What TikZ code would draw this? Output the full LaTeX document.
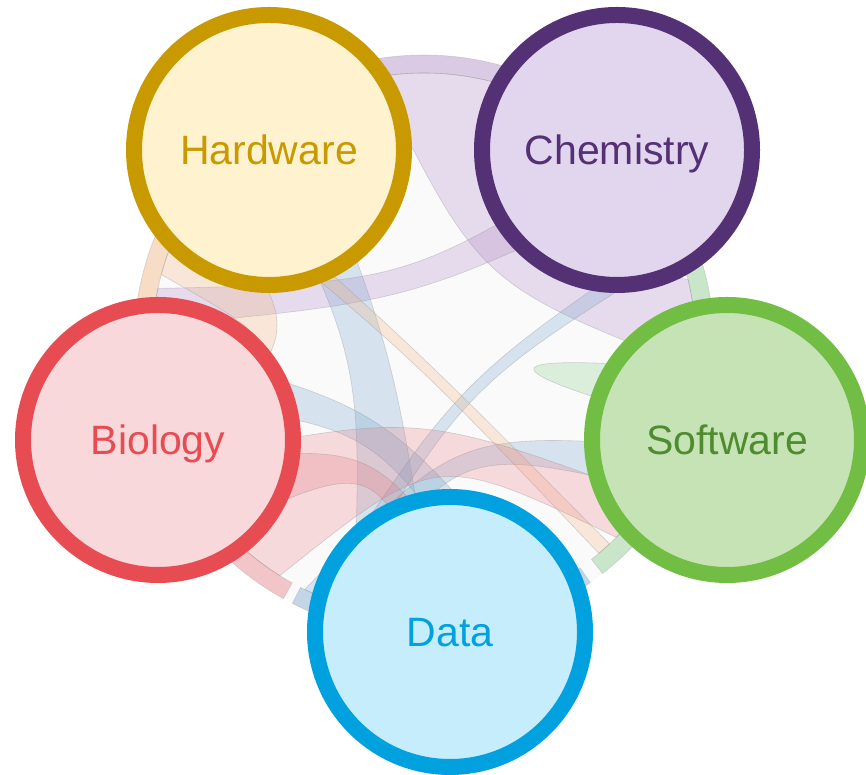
\documentclass[tikz,border=0pt]{standalone}
\usepackage{fontspec}
\setmainfont{Liberation Sans}
\usepackage{tikz}
\usetikzlibrary{calc}

\definecolor{hwline}{RGB}{201,154,0}
\definecolor{hwfill}{RGB}{255,242,207}
\definecolor{chemline}{RGB}{84,49,117}
\definecolor{chemfill}{RGB}{226,214,238}
\definecolor{softline}{RGB}{114,190,68}
\definecolor{softfill}{RGB}{197,227,181}
\definecolor{softtext}{RGB}{78,140,47}
\definecolor{bioline}{RGB}{232,76,83}
\definecolor{biofill}{RGB}{248,216,218}
\definecolor{dataline}{RGB}{0,161,222}
\definecolor{datafill}{RGB}{197,237,252}
% faded chord colours
\definecolor{hwc}{RGB}{244,177,120}
\definecolor{chemc}{RGB}{170,130,195}
\definecolor{softc}{RGB}{130,200,130}
\definecolor{bioc}{RGB}{232,120,128}
\definecolor{datac}{RGB}{110,160,205}

\begin{document}
\begin{tikzpicture}[x=1pt, y=1pt]
    \tikzstyle{topic} = [circle, line width=16pt, inner sep=0pt, minimum size=270pt, text height=29.4pt, text depth=0pt, font=\fontsize{41}{49}\selectfont]
    \tikzstyle{band} = [draw=black!30, line width=0.6pt, fill opacity=0.4, draw opacity=0.5]
    \tikzstyle{ribbon} = [draw=black!45, line width=0.6pt, fill opacity=0.25, draw opacity=0.35]

    \useasboundingbox (0,0) rectangle (866,775);

    % Chord background
    \begin{scope}[shift={(424,430)}]
        \fill[black!2] (0,0) circle (290);
        % outer bands
        \foreach \s/\e/\col in {20/112/chemc, 115/195/hwc, 198/241/bioc, 243/305/datac, 308/377/softc} {
            \filldraw[band, fill=\col] (\s:272) arc[start angle=\s, end angle=\e, radius=272]
                -- (\e:290) arc[start angle=\e, end angle=\s, radius=290] -- cycle;
        }
        % ribbons
        \foreach \a/\b/\c/\d/\col in {70/100/355/374/chemc, 100/111/132/139/chemc, 35/45/168/176/chemc,
                                      118/130/255/272/datac, 180/192/285/295/datac, 244/252/328/338/datac,
                                      20/24/247/251/datac, 145/165/199/204/hwc, 140/144/310/313/hwc,
                                      205/238/315/326/bioc, 206/222/273/283/bioc} {
            \filldraw[ribbon, fill=\col] (\a:272) arc[start angle=\a, end angle=\b, radius=272]
                .. controls ($(\b:68)+(\c:68)$) .. (\c:272) arc[start angle=\c, end angle=\d, radius=272]
                .. controls ($(\d:68)+(\a:68)$) .. (\a:272);
        }
        \filldraw[ribbon, fill=softc] (343:272) arc[start angle=343, end angle=355, radius=272]
            .. controls (352:60) and (340:60) .. (343:272);
    \end{scope}

    % Topics
    \node[topic, draw=hwline, fill=hwfill, text=hwline] (hw) at (269,625) {Hardware};
    \node[topic, draw=chemline, fill=chemfill, text=chemline] (chem) at (617,625) {Chemistry};
    \node[topic, draw=softline, fill=softfill, text=softtext] (soft) at (727,335) {Software};
    \node[topic, draw=bioline, fill=biofill, text=bioline] (bio) at (158,335) {Biology};
    \node[topic, draw=dataline, fill=datafill, text=dataline] (data) at (450,143) {Data};

\end{tikzpicture}
\end{document}
